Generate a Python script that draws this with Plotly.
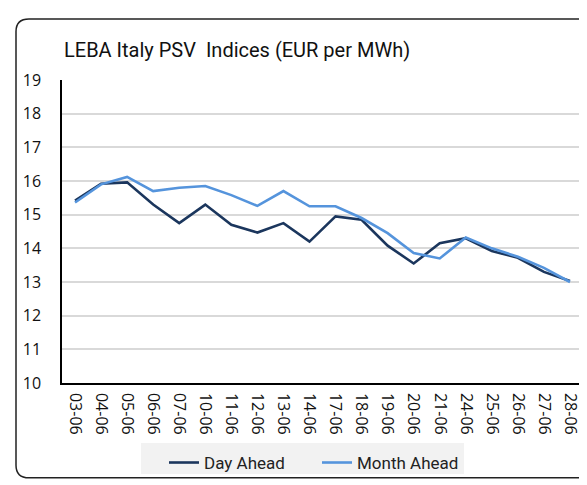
import plotly.graph_objects as go

dates = ["03-06", "04-06", "05-06", "06-06", "07-06", "10-06", "11-06", "12-06", "13-06", "14-06",
         "17-06", "18-06", "19-06", "20-06", "21-06", "24-06", "25-06", "26-06", "27-06", "28-06"]
day_ahead = [15.42, 15.92, 15.96, 15.3, 14.75, 15.3, 14.7, 14.47, 14.75, 14.2,
             14.95, 14.85, 14.08, 13.55, 14.15, 14.3, 13.92, 13.72, 13.3, 13.03]
month_ahead = [15.36, 15.9, 16.12, 15.7, 15.8, 15.85, 15.58, 15.26, 15.7, 15.25,
               15.25, 14.9, 14.45, 13.86, 13.7, 14.32, 14.0, 13.75, 13.42, 13.0]
y_ticks = [10, 11, 12, 13, 14, 15, 16, 17, 18, 19]

W, H = 587, 485
L, R, T, B = 54, 12, 72, 100
pw, ph = W - L - R, H - T - B

def px(x):
    return (x - L) / pw

def py(y):
    return (H - B - y) / ph

fig = go.Figure()
fig.add_trace(go.Scatter(x=dates, y=day_ahead, name="Day Ahead", mode="lines",
                         line=dict(color="#1b365d", width=2.6)))
fig.add_trace(go.Scatter(x=dates, y=month_ahead, name="Month Ahead", mode="lines",
                         line=dict(color="#5594dc", width=2.6)))

# rounded outer border
x0, x1, y0, y1, r = 8, 589, 9, 483, 13
path = (f"M {px(x0)},{py(y0 + r)} "
        f"Q {px(x0)},{py(y0)} {px(x0 + r)},{py(y0)} "
        f"L {px(x1 - r)},{py(y0)} "
        f"Q {px(x1)},{py(y0)} {px(x1)},{py(y0 + r)} "
        f"L {px(x1)},{py(y1 - r)} "
        f"Q {px(x1)},{py(y1)} {px(x1 - r)},{py(y1)} "
        f"L {px(x0 + r)},{py(y1)} "
        f"Q {px(x0)},{py(y1)} {px(x0)},{py(y1 - r)} Z")
fig.add_shape(type="path", path=path, xref="paper", yref="paper",
              line=dict(color="#222222", width=1.5), layer="below")
# legend background box
fig.add_shape(type="rect", xref="paper", yref="paper",
              x0=px(133), x1=px(456), y0=py(479), y1=py(447),
              fillcolor="#f2f2f2", line=dict(width=0), layer="below")

fig.update_layout(
    width=W, height=H,
    margin=dict(l=L, r=R, t=T, b=B),
    paper_bgcolor="white", plot_bgcolor="white",
    title=dict(text="LEBA Italy PSV  Indices (EUR per MWh)", x=56 / W, xanchor="left",
               y=(H - 42) / H, yanchor="middle",
               font=dict(family="Roboto, sans-serif", size=20, color="#111111")),
    showlegend=True,
    legend=dict(orientation="h", x=px(156), xanchor="left", y=py(449), yanchor="top",
                bgcolor="rgba(0,0,0,0)", font=dict(family="Roboto, sans-serif", size=17, color="#222222"),
                itemwidth=30, entrywidth=108, entrywidthmode="pixels"),
    font=dict(family="Open Sans, sans-serif", size=16, color="#111111"),
)
fig.update_xaxes(type="category", tickangle=90, showgrid=False, showline=True,
                 linecolor="#000000", linewidth=1.5, ticks="outside", ticklen=5,
                 tickcolor="rgba(0,0,0,0)", tickfont=dict(size=16),
                 range=[-0.5, len(dates) - 0.5], automargin=False)
fig.update_yaxes(range=[10, 19], tickvals=y_ticks, showgrid=True, gridcolor="#d9d9d9",
                 gridwidth=1.5, showline=True, linecolor="#000000", linewidth=1.5,
                 ticks="outside", ticklen=16, tickcolor="rgba(0,0,0,0)",
                 tickfont=dict(size=16), zeroline=False, automargin=False)

fig.write_html("out.html")
